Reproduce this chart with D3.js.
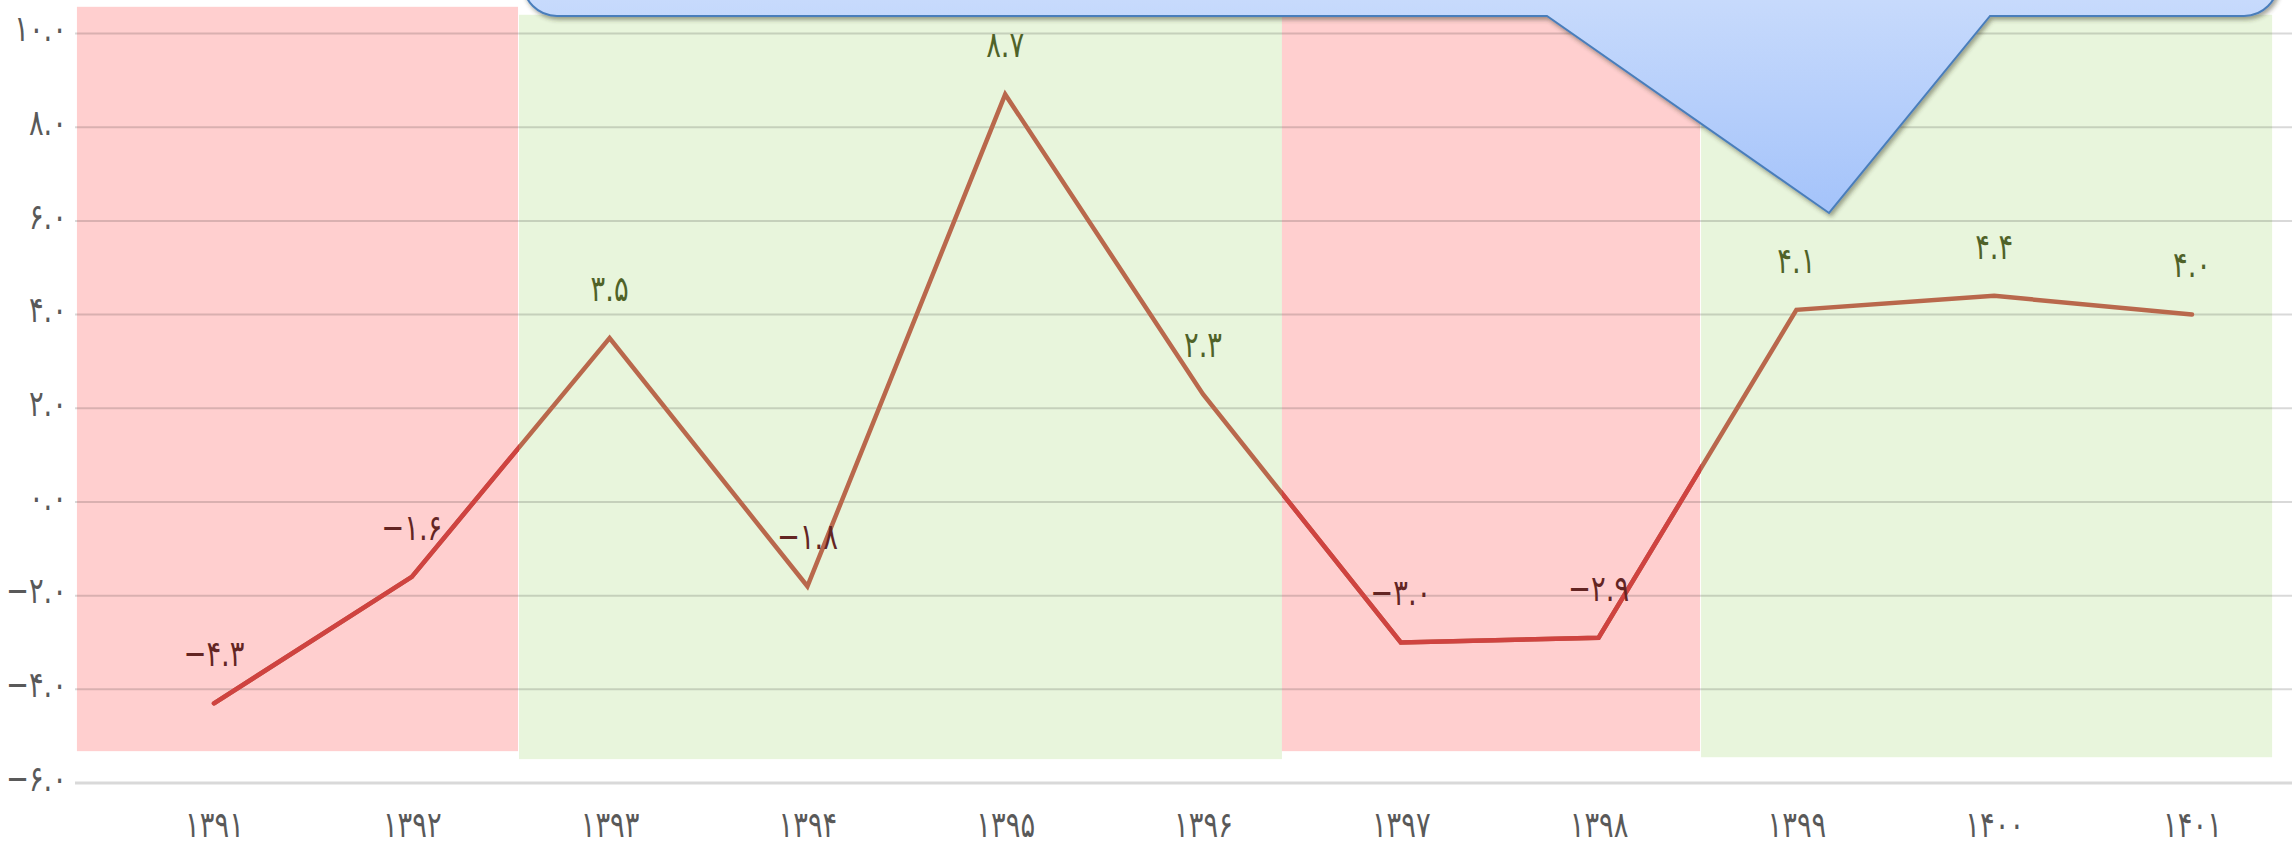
<!DOCTYPE html>
<html>
<head>
<meta charset="utf-8">
<script src="https://cdn.jsdelivr.net/npm/d3@7"></script>
<style>
  html, body { margin: 0; padding: 0; background: #ffffff; }
  svg { display: block; }
  text { font-family: "DejaVu Sans", sans-serif; direction: ltr; }
</style>
</head>
<body>
<svg id="chart" width="2292" height="852"></svg>
<script>
// ---- data ----
const years = ['۱۳۹۱','۱۳۹۲','۱۳۹۳','۱۳۹۴','۱۳۹۵','۱۳۹۶','۱۳۹۷','۱۳۹۸','۱۳۹۹','۱۴۰۰','۱۴۰۱'];
const growth = [-4.3, -1.6, 3.5, -1.8, 8.7, 2.3, -3.0, -2.9, 4.1, 4.4, 4.0];
const valueLabels = ['−۴.۳','−۱.۶','۳.۵','−۱.۸','۸.۷','۲.۳','−۳.۰','−۲.۹','۴.۱','۴.۴','۴.۰'];
const yTicks = [-6, -4, -2, 0, 2, 4, 6, 8, 10];
const yTickLabels = ['−۶.۰','−۴.۰','−۲.۰','۰.۰','۲.۰','۴.۰','۶.۰','۸.۰','۱۰.۰'];
// shaded periods (in category-index units and value units)
const bandStart  = [-0.693, 1.542, 5.399, 7.518];
const bandEnd    = [1.537, 5.399, 7.513, 10.405];
const bandTop    = [10.57, 10.40, 10.57, 10.40];
const bandBottom = [-5.32, -5.49, -5.32, -5.45];
const bandKind   = ['down', 'up', 'down', 'up'];
// callout outline (index units, value units)
const calloutLeft = 1.562, calloutRight = 10.435, calloutBottom = 10.374;
const pointerBaseL = 6.739, pointerBaseR = 8.979, pointerTipX = 8.165, pointerTipY = 6.168;

// ---- scales ----
const svg = d3.select('#chart');
const x = d3.scalePoint().domain(years).range([214, 2192]);
const xi = d3.scaleLinear().domain([0, years.length - 1]).range([214, 2192]);
const y = d3.scaleLinear().domain([-6, 10]).range([783, 33.5]);

const colors = { down: '#ffcfcf', up: '#e8f5dc' };
const FS = 36, SX = 0.76;

// ---- bands ----
const bands = bandStart.map((s, i) => ({ s, e: bandEnd[i], t: bandTop[i], b: bandBottom[i], k: bandKind[i] }));
svg.append('g').selectAll('rect').data(bands).join('rect')
  .attr('x', d => xi(d.s)).attr('width', d => xi(d.e) - xi(d.s))
  .attr('y', d => y(d.t)).attr('height', d => y(d.b) - y(d.t))
  .attr('fill', d => colors[d.k]);

// ---- gridlines ----
svg.append('g').selectAll('line').data(yTicks.filter(v => v > -6)).join('line')
  .attr('x1', 75).attr('x2', 2292)
  .attr('y1', d => y(d)).attr('y2', d => y(d))
  .attr('stroke', 'rgba(0,0,0,0.15)').attr('stroke-width', 2);
// base axis line
svg.append('line').attr('x1', 75).attr('x2', 2292).attr('y1', y(-6)).attr('y2', y(-6))
  .attr('stroke', '#d9d9d9').attr('stroke-width', 3);

// ---- y axis labels ----
const yAxis = d3.axisLeft(y).tickValues(yTicks).tickFormat((d, i) => yTickLabels[i]).tickSize(0).tickPadding(0);
const gy = svg.append('g').attr('transform', 'translate(67,0)').call(yAxis);
gy.select('.domain').remove();
gy.selectAll('text').attr('font-size', FS).attr('fill', '#595959').attr('font-family', 'DejaVu Sans')
  .attr('dy', '0.2em').attr('transform', `scale(${SX},1)`);

// ---- x axis labels ----
const xAxis = d3.axisBottom(x).tickSize(0).tickPadding(0);
const gx = svg.append('g').attr('transform', 'translate(0,826)').call(xAxis);
gx.select('.domain').remove();
gx.selectAll('text').attr('font-size', FS).attr('fill', '#595959').attr('font-family', 'DejaVu Sans')
  .attr('dy', '0.3em').attr('transform', `scale(${SX},1)`);

// ---- line ----
const pts = years.map((yr, i) => ({ yr, v: growth[i], lab: valueLabels[i] }));
const lineGen = d3.line().x(d => x(d.yr)).y(d => y(d.v));
const defs = svg.append('defs');
const clip = defs.append('clipPath').attr('id', 'downClip');
clip.selectAll('rect').data(bands.filter(d => d.k === 'down')).join('rect')
  .attr('x', d => xi(d.s)).attr('width', d => xi(d.e) - xi(d.s) + 1)
  .attr('y', 0).attr('height', 852);

svg.append('path').datum(pts).attr('d', lineGen)
  .attr('fill', 'none').attr('stroke', '#b9684c').attr('stroke-width', 4.5)
  .attr('stroke-linecap', 'round').attr('stroke-linejoin', 'miter');
svg.append('path').datum(pts).attr('d', lineGen).attr('clip-path', 'url(#downClip)')
  .attr('fill', 'none').attr('stroke', '#cf4340').attr('stroke-width', 4.5)
  .attr('stroke-linecap', 'round').attr('stroke-linejoin', 'miter');

// ---- value labels ----
svg.append('g').selectAll('text').data(pts).join('text')
  .attr('transform', d => `translate(${x(d.yr)},${y(d.v) - 48}) scale(${SX},1)`)
  .attr('dy', '0.3em')
  .attr('text-anchor', 'middle').attr('font-size', FS)
  .attr('fill', d => d.v < 0 ? '#632523' : '#4f6228')
  .text(d => d.lab);

// ---- callout ----
const grad = defs.append('linearGradient').attr('id', 'calloutGrad')
  .attr('gradientUnits', 'userSpaceOnUse').attr('x1', 0).attr('x2', 0).attr('y1', 0).attr('y2', y(pointerTipY));
grad.append('stop').attr('offset', 0).attr('stop-color', '#c7dafc');
grad.append('stop').attr('offset', 1).attr('stop-color', '#a4c3fa');
const flt = defs.append('filter').attr('id', 'shadow').attr('x', '-5%').attr('y', '-50%').attr('width', '110%').attr('height', '200%');
flt.append('feDropShadow').attr('dx', 2).attr('dy', 3).attr('stdDeviation', 2)
  .attr('flood-color', '#3a3a20').attr('flood-opacity', 0.45);

const r = 34;
const L = xi(calloutLeft), R = xi(calloutRight), B = y(calloutBottom);
const p = d3.path();
p.moveTo(L, -120);
p.lineTo(L, B - r);
p.arcTo(L, B, L + r, B, r);
p.lineTo(xi(pointerBaseL), B);
p.lineTo(xi(pointerTipX), y(pointerTipY));
p.lineTo(xi(pointerBaseR), B);
p.lineTo(R - r, B);
p.arcTo(R, B, R, B - r, r);
p.lineTo(R, -120);
p.closePath();
svg.append('path').attr('d', p.toString())
  .attr('fill', 'url(#calloutGrad)').attr('stroke', '#4a7ebb').attr('stroke-width', 2)
  .attr('filter', 'url(#shadow)');
</script>
</body>
</html>
